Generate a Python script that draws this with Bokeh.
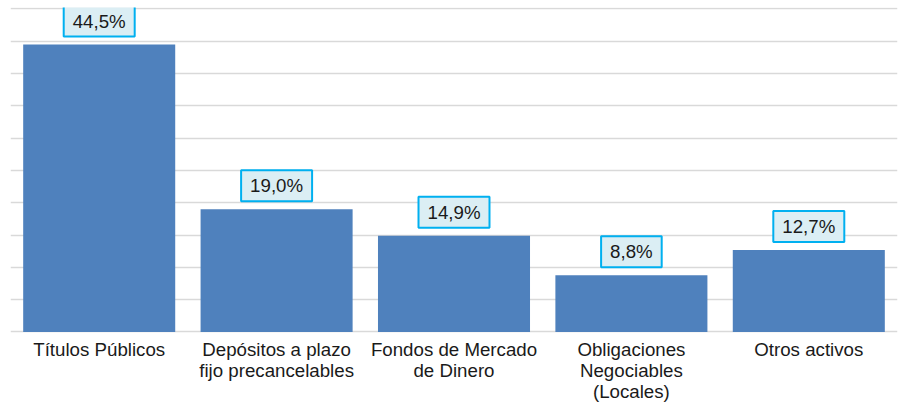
from bokeh.plotting import figure
from bokeh.models import ColumnDataSource, FactorRange, Range1d, FixedTicker
from bokeh.core.properties import value
from bokeh.embed import file_html
from bokeh.resources import INLINE

categories = ["Títulos Públicos", "Depósitos a plazo\nfijo precancelables", "Fondos de Mercado\nde Dinero",
              "Obligaciones\nNegociables\n(Locales)", "Otros activos"]
values = [44.5, 19.0, 14.9, 8.8, 12.7]
labels = ["44,5%", "19,0%", "14,9%", "8,8%", "12,7%"]
grid_ticks = [0, 5, 10, 15, 20, 25, 30, 35, 40, 45, 50]

src = ColumnDataSource(dict(cat=categories, val=values, lab=labels, base=[0] * len(values)))

p = figure(x_range=FactorRange(factors=categories, range_padding=0), y_range=Range1d(-11.38, 50.23),
           width=900, height=405, output_backend="svg", toolbar_location=None,
           min_border_left=10, min_border_right=3, min_border_top=7, min_border_bottom=0)
p.outline_line_color = None
p.background_fill_color = "white"

p.vbar(x="cat", top="val", width=0.857, source=src, fill_color="#4F81BD", line_color=None)

p.xaxis.visible = False
p.yaxis.visible = False
p.ygrid.ticker = FixedTicker(ticks=grid_ticks)
p.ygrid.grid_line_color = "#D9D9D9"
p.ygrid.grid_line_width = 1.5
p.xgrid.grid_line_color = None

# category labels under the baseline
p.text(x="cat", y="base", text="cat", source=src, text_align="center", text_baseline="top",
       y_offset=7, text_font=value("Liberation Sans"), text_font_size="18.7px", text_color="#1a1a1a",
       text_line_height=1.0)

# value labels in boxes
p.text(x="cat", y="val", text="lab", source=src, text_align="center", text_baseline="bottom",
       y_offset=-8, text_font=value("Liberation Sans"), text_font_size="18.7px", text_color="#1a1a1a",
       background_fill_color="#DBEEF4", border_line_color="#00B0F0", border_line_width=2,
       padding=(9, 5))

open("out.html", "w").write(file_html(p, INLINE))
